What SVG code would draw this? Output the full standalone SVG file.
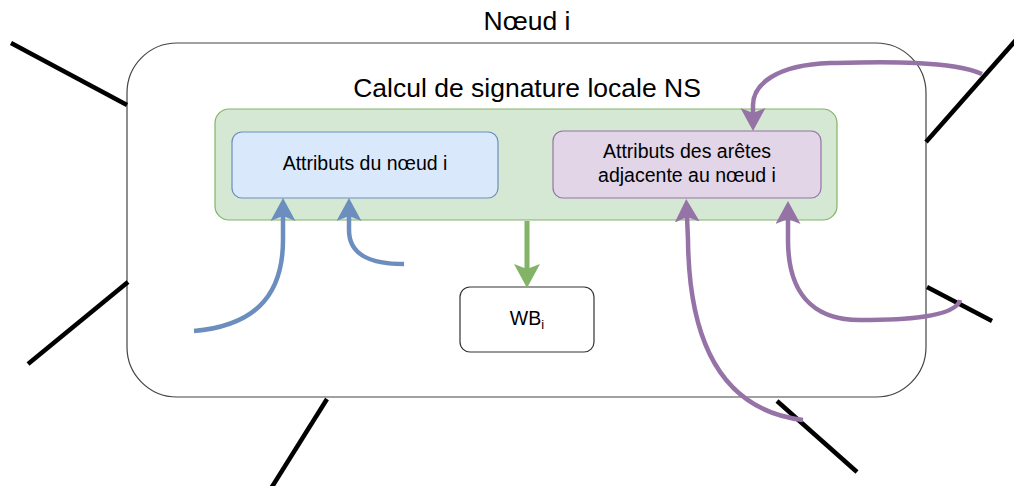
<svg xmlns="http://www.w3.org/2000/svg" width="1014" height="486" viewBox="0 0 1014 486">
<style>
text{font-family:"Liberation Sans",Arial,Helvetica,sans-serif;fill:#000;text-anchor:middle}
.title{font-size:26.5px}
.lbl{font-size:19.5px}
.edge{stroke:#000;stroke-width:4.5;fill:none}
.blue{stroke:#6c8ebf;stroke-width:4.5;fill:none}
.purple{stroke:#9673a6;stroke-width:4.5;fill:none}
.green{stroke:#82b366;stroke-width:5;fill:none}
</style>
<defs>
<marker id="ab" markerUnits="userSpaceOnUse" viewBox="0 0 23 25" markerWidth="23" markerHeight="25" refX="5" refY="12.5" orient="auto"><path d="M0,0 L23,12.5 L0,25 L5,12.5 Z" fill="#6c8ebf"/></marker>
<marker id="ap" markerUnits="userSpaceOnUse" viewBox="0 0 23 25" markerWidth="23" markerHeight="25" refX="5" refY="12.5" orient="auto"><path d="M0,0 L23,12.5 L0,25 L5,12.5 Z" fill="#9673a6"/></marker>
<marker id="ag" markerUnits="userSpaceOnUse" viewBox="0 0 24 26" markerWidth="24" markerHeight="26" refX="5" refY="13" orient="auto"><path d="M0,0 L24,13 L0,26 L5,13 Z" fill="#82b366"/></marker>
</defs>
<g id="node-i">
<rect x="127" y="43" width="799" height="354" rx="50" ry="50" fill="#fff" stroke="#444" stroke-width="1.2"/>
<text class="title" x="527" y="30">Nœud i</text>
</g>
<g id="external-edges">
<line class="edge" x1="11" y1="43" x2="127" y2="105"/>
<line class="edge" x1="28" y1="364" x2="128" y2="282"/>
<line class="edge" x1="327" y1="399" x2="270" y2="490"/>
<line class="edge" x1="926" y1="142" x2="1016" y2="40"/>
<line class="edge" x1="927" y1="287" x2="992" y2="321"/>
<line class="edge" x1="777" y1="401" x2="857" y2="472"/>
</g>
<g id="ns">
<text class="title" x="527" y="97">Calcul de signature locale NS</text>
<rect x="215" y="109" width="622" height="111" rx="14" ry="14" fill="#d5e8d4" stroke="#82b366" stroke-width="1.2"/>
</g>
<g id="attr-noeud">
<rect x="232" y="132" width="266" height="66" rx="10" ry="10" fill="#dae8fc" stroke="#6c8ebf" stroke-width="1.2"/>
<text class="lbl" x="365" y="170">Attributs du nœud i</text>
</g>
<g id="attr-aretes">
<rect x="553" y="131" width="268" height="67" rx="10" ry="10" fill="#e1d5e7" stroke="#9673a6" stroke-width="1.2"/>
<text class="lbl" x="687" y="158">Attributs des arêtes</text>
<text class="lbl" x="687" y="182">adjacente au nœud i</text>
</g>
<g id="wb">
<rect x="460" y="287" width="134" height="65" rx="10" ry="10" fill="#fff" stroke="#333" stroke-width="1.2"/>
<text class="lbl" x="527" y="325">WB<tspan font-size="13px" dy="4">i</tspan></text>
</g>
<g id="connectors">
<path class="green" d="M527,221 L527,269" marker-end="url(#ag)"/>
<path class="blue" d="M194,331 C250,326 283,300 283,240 L283,216" marker-end="url(#ab)"/>
<path class="blue" d="M404,264 C370,264 349,255 349,230 L349,216" marker-end="url(#ab)"/>
<path class="purple" d="M982,74 C950,60 880,62 830,63 C775,65 753,85 753,105 L753,113" marker-end="url(#ap)"/>
<path class="purple" d="M803,420 C720,410 689,340 688,240 L687,217" marker-end="url(#ap)"/>
<path class="purple" d="M960,300 C955,318 900,320 860,320 C810,320 788,290 788,240 L788,219" marker-end="url(#ap)"/>
</g>
</svg>
